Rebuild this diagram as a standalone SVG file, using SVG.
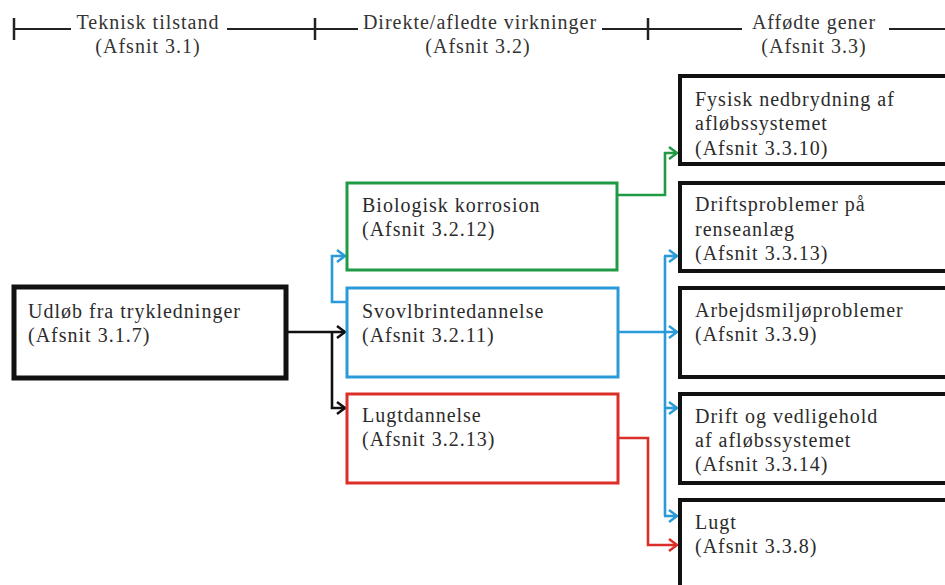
<svg xmlns="http://www.w3.org/2000/svg" width="945" height="585" viewBox="0 0 945 585">
  <style>
    text { font-family: "Liberation Serif", "Times New Roman", serif; font-size: 20px; letter-spacing: 1px; fill: #2b2b2b; }
    .hdr { text-anchor: middle; fill: #333; }
    .rule { stroke: #222; stroke-width: 2; fill: none; }
    .tick { stroke: #222; stroke-width: 2.5; fill: none; }
    .box { fill: #fff; }
    .src { stroke: #111; stroke-width: 5; }
    .out { stroke: #111; stroke-width: 4; }
    .green { stroke: #1f9a45; stroke-width: 3; }
    .blue { stroke: #2b9ad9; stroke-width: 3; }
    .red { stroke: #dc2e28; stroke-width: 3; }
    .c { fill: none; stroke-width: 2.6; }
    .ck { stroke: #111; }
    .cg { stroke: #1f9a45; }
    .cb { stroke: #2b9ad9; }
    .cr { stroke: #dc2e28; }
  </style>
  <defs>
    <marker id="ah-k" markerUnits="userSpaceOnUse" markerWidth="12" markerHeight="14" refX="9" refY="7" orient="auto">
      <path d="M1,1 L9,7 L1,13" fill="none" stroke="#111" stroke-width="2.5"/>
    </marker>
    <marker id="ah-g" markerUnits="userSpaceOnUse" markerWidth="12" markerHeight="14" refX="9" refY="7" orient="auto">
      <path d="M1,1 L9,7 L1,13" fill="none" stroke="#1f9a45" stroke-width="2.5"/>
    </marker>
    <marker id="ah-b" markerUnits="userSpaceOnUse" markerWidth="12" markerHeight="14" refX="9" refY="7" orient="auto">
      <path d="M1,1 L9,7 L1,13" fill="none" stroke="#2b9ad9" stroke-width="2.5"/>
    </marker>
    <marker id="ah-r" markerUnits="userSpaceOnUse" markerWidth="12" markerHeight="14" refX="9" refY="7" orient="auto">
      <path d="M1,1 L9,7 L1,13" fill="none" stroke="#dc2e28" stroke-width="2.5"/>
    </marker>
  </defs>

  <rect width="945" height="585" fill="#fff"/>

  <!-- column header scale -->
  <g id="header">
    <line class="tick" x1="14" y1="18" x2="14" y2="40"/>
    <line class="tick" x1="315" y1="18" x2="315" y2="40"/>
    <line class="tick" x1="648" y1="18" x2="648" y2="40"/>
    <line class="rule" x1="14" y1="29" x2="71" y2="29"/>
    <line class="rule" x1="227" y1="29" x2="358" y2="29"/>
    <line class="rule" x1="602" y1="29" x2="742" y2="29"/>
    <line class="rule" x1="889" y1="29" x2="945" y2="29"/>
    <text class="hdr" x="148" y="29">Teknisk tilstand</text>
    <text class="hdr" x="148" y="53">(Afsnit 3.1)</text>
    <text class="hdr" x="480" y="29">Direkte/afledte virkninger</text>
    <text class="hdr" x="478" y="53">(Afsnit 3.2)</text>
    <text class="hdr" x="814" y="29">Affødte gener</text>
    <text class="hdr" x="814" y="53">(Afsnit 3.3)</text>
  </g>

  <!-- connectors -->
  <g id="connectors">
    <path class="c ck" d="M288,332 H345" marker-end="url(#ah-k)"/>
    <path class="c ck" d="M332,332 V408 H345" marker-end="url(#ah-k)"/>
    <path class="c cb" d="M347,302 H332 V256 H345" marker-end="url(#ah-b)"/>
    <path class="c cb" d="M619,332 H677" marker-end="url(#ah-b)"/>
    <path class="c cb" d="M665,256 V516"/>
    <path class="c cb" d="M664,256 H677" marker-end="url(#ah-b)"/>
    <path class="c cb" d="M664,408 H677" marker-end="url(#ah-b)"/>
    <path class="c cb" d="M664,516 H677" marker-end="url(#ah-b)"/>
    <path class="c cg" d="M618,195 H665 V153 H677" marker-end="url(#ah-g)"/>
    <path class="c cr" d="M619,438 H648 V545 H677" marker-end="url(#ah-r)"/>
  </g>

  <!-- source -->
  <g id="n-udlob">
    <rect class="box src" x="14" y="287" width="272" height="91"/>
    <text x="28" y="318">Udløb fra trykledninger</text>
    <text x="28" y="342">(Afsnit 3.1.7)</text>
  </g>

  <!-- direct effects -->
  <g id="n-korrosion">
    <rect class="box green" x="347" y="183" width="270" height="87"/>
    <text x="362" y="212">Biologisk korrosion</text>
    <text x="362" y="236">(Afsnit 3.2.12)</text>
  </g>
  <g id="n-svovlbrinte">
    <rect class="box blue" x="347" y="288" width="271" height="89"/>
    <text x="362" y="318">Svovlbrintedannelse</text>
    <text x="362" y="342">(Afsnit 3.2.11)</text>
  </g>
  <g id="n-lugtdannelse">
    <rect class="box red" x="347" y="394" width="271" height="89"/>
    <text x="362" y="422">Lugtdannelse</text>
    <text x="362" y="446">(Afsnit 3.2.13)</text>
  </g>

  <!-- consequences -->
  <g id="n-nedbrydning">
    <rect class="box out" x="680" y="76" width="300" height="88"/>
    <text x="695" y="106">Fysisk nedbrydning af</text>
    <text x="695" y="130">afløbssystemet</text>
    <text x="695" y="155">(Afsnit 3.3.10)</text>
  </g>
  <g id="n-renseanlaeg">
    <rect class="box out" x="680" y="183" width="300" height="88"/>
    <text x="695" y="211">Driftsproblemer på</text>
    <text x="695" y="236">renseanlæg</text>
    <text x="695" y="260">(Afsnit 3.3.13)</text>
  </g>
  <g id="n-arbejdsmiljo">
    <rect class="box out" x="680" y="288" width="300" height="89"/>
    <text x="695" y="317">Arbejdsmiljøproblemer</text>
    <text x="695" y="341">(Afsnit 3.3.9)</text>
  </g>
  <g id="n-drift">
    <rect class="box out" x="680" y="394" width="300" height="89"/>
    <text x="695" y="423">Drift og vedligehold</text>
    <text x="695" y="447">af afløbssystemet</text>
    <text x="695" y="471">(Afsnit 3.3.14)</text>
  </g>
  <g id="n-lugt">
    <rect class="box out" x="680" y="500" width="300" height="100"/>
    <text x="695" y="529">Lugt</text>
    <text x="695" y="553">(Afsnit 3.3.8)</text>
  </g>
</svg>
